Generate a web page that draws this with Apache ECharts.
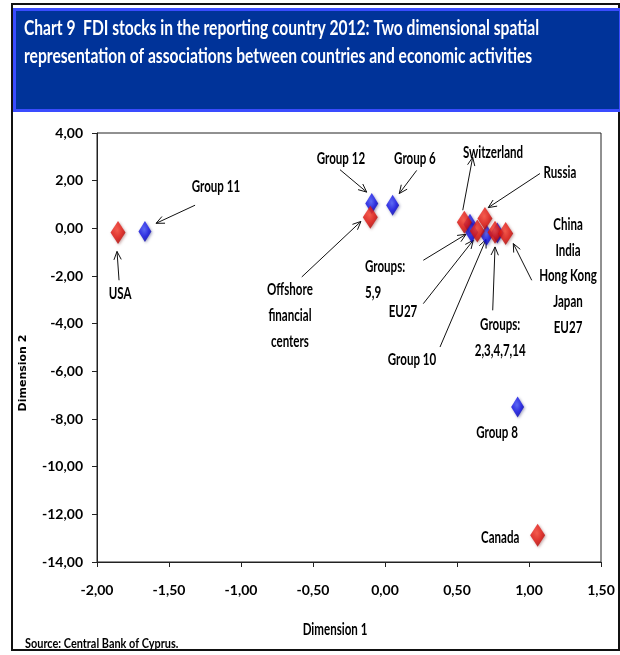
<!DOCTYPE html>
<html>
<head>
<meta charset="utf-8">
<style>
  html, body { margin: 0; padding: 0; background: #fff; }
  #chart { width: 620px; height: 655px; }
</style>
<script src="https://cdn.jsdelivr.net/npm/echarts@6/dist/echarts.min.js"></script>
</head>
<body>
<div id="chart"></div>
<script>
// Axis ticks (Dimension 1 / Dimension 2)
var xTicks = [-2.0, -1.5, -1.0, -0.5, 0.0, 0.5, 1.0, 1.5];
var yTicks = [-14, -12, -10, -8, -6, -4, -2, 0, 2, 4];

// Countries (red) – [dimension 1, dimension 2]
var countryNames = ['USA', 'Offshore financial centers', 'Switzerland', 'EU27', 'Russia', 'Hong Kong', 'China', 'Canada'];
var countryPoints = [
  [-1.854, -0.17],
  [-0.102, 0.47],
  [0.551, 0.26],
  [0.641, -0.11],
  [0.694, 0.41],
  [0.764, -0.16],
  [0.838, -0.22],
  [1.060, -12.88]
];

// Economic activity groups (blue)
var groupNames = ['Group 11', 'Group 12', 'Group 6', 'Groups 5,9', 'Group 9', 'Group 10', 'Groups 2,3,4,7,14', 'Group 8'];
var groupPoints = [
  [-1.667, -0.13],
  [-0.092, 1.04],
  [0.053, 0.97],
  [0.590, 0.17],
  [0.602, -0.16],
  [0.706, -0.29],
  [0.780, -0.20],
  [0.921, -7.50]
];

// Annotation texts and their anchor in data units
var labelTexts = ['Group 11', 'USA', 'Group 12', 'Group 6', 'Offshore\nfinancial\ncenters', 'Switzerland', 'Russia',
  'Groups:\n5,9', 'EU27', 'Group 10', 'Groups:\n2,3,4,7,14', 'China\nIndia\nHong Kong\nJapan\nEU27', 'Group 8', 'Canada'];
var labelAnchors = [
  [-1.174, 1.76], [-1.840, -2.73], [-0.306, 2.94], [0.208, 2.94], [-0.66, -3.65], [0.75, 3.19], [1.215, 2.35],
  [-0.139, -2.14], [0.125, -3.48], [0.1875, -5.50], [0.80, -4.57], [1.271, -1.99], [0.778, -8.56], [0.80, -12.97]
];
var labelAlign = ['center', 'center', 'center', 'center', 'center', 'center', 'center',
  'left', 'center', 'center', 'center', 'center', 'center', 'center'];

// Leader arrows: [tailX, tailY, headX, headY]
var arrows = [
  [-1.319, 0.97, -1.590, 0.21],
  [-1.847, -2.18, -1.861, -0.97],
  [-0.3125, 2.46, -0.127, 1.52],
  [0.220, 2.43, 0.099, 1.46],
  [-0.578, -2.04, -0.167, 0.29],
  [0.540, 0.76, 0.609, 2.98],
  [1.076, 2.30, 0.717, 0.87],
  [0.266, -1.34, 0.5625, -0.25],
  [0.266, -3.16, 0.613, -0.50],
  [0.382, -4.98, 0.701, -0.47],
  [0.748, -3.44, 0.764, -0.78],
  [1.019, -2.18, 0.891, -0.64]
];

var FONT = 'Lato, "DejaVu Sans Condensed", sans-serif';
var NARROW = 0.68;        // horizontal squeeze of the chart lettering
var NARROW_TITLE = 0.78;  // horizontal squeeze of the title and footnote

function fmt(v) { return v.toFixed(2).replace('.', ','); }

function diamondFill(light, mid, dark) {
  return new echarts.graphic.RadialGradient(0.45, 0.4, 0.7, [
    { offset: 0, color: light },
    { offset: 0.5, color: mid },
    { offset: 1, color: dark }
  ]);
}

var chart = echarts.init(document.getElementById('chart'), null, { renderer: 'canvas' });

var option = {
  animation: false,
  backgroundColor: '#ffffff',
  grid: {
    left: 97, right: 19, top: 133, bottom: 93,
    show: true, borderColor: '#222', borderWidth: 1, backgroundColor: '#fff'
  },
  xAxis: {
    type: 'value',
    min: xTicks[0], max: xTicks[xTicks.length - 1], interval: xTicks[1] - xTicks[0],
    axisLine: { show: true, onZero: false, lineStyle: { color: '#222', width: 1 } },
    axisTick: { show: true, inside: false, length: 5, lineStyle: { color: '#222' } },
    splitLine: { show: false },
    axisLabel: { color: '#000', fontFamily: FONT, fontWeight: 'bold', fontSize: 14, margin: 21, formatter: fmt }
  },
  yAxis: {
    type: 'value',
    min: yTicks[0], max: yTicks[yTicks.length - 1], interval: yTicks[1] - yTicks[0],
    axisLine: { show: true, onZero: false, lineStyle: { color: '#222', width: 1 } },
    axisTick: { show: true, inside: false, length: 5, lineStyle: { color: '#222' } },
    splitLine: { show: false },
    axisLabel: { color: '#000', fontFamily: FONT, fontWeight: 'bold', fontSize: 14, margin: 14, formatter: fmt }
  },
  graphic: [
    { type: 'rect', z: -10, shape: { x: 12, y: 4, width: 607, height: 646 },
      style: { fill: '#fff', stroke: '#111', lineWidth: 2 } },
    { type: 'rect', z: 10, shape: { x: 14.5, y: 9.5, width: 606, height: 101 },
      style: { fill: '#003399', stroke: '#3a4cff', lineWidth: 3 } },
    { type: 'text', z: 11, x: 24, y: 15, scaleX: NARROW_TITLE,
      style: { text: 'Chart 9  FDI stocks in the reporting country 2012: Two dimensional spatial\nrepresentation of associations between countries and economic activities',
        fill: '#fff', font: 'bold 20px ' + FONT, lineHeight: 28, align: 'left', verticalAlign: 'top' } },
    { type: 'text', z: 11, x: 23, y: 373, rotation: Math.PI / 2,
      style: { text: 'Dimension 2', fill: '#000', font: 'bold 11px "DejaVu Sans", sans-serif',
        align: 'center', verticalAlign: 'middle' } },
    { type: 'text', z: 11, x: 335, y: 630, scaleX: NARROW,
      style: { text: 'Dimension 1', fill: '#000', font: 'bold 17px ' + FONT,
        align: 'center', verticalAlign: 'middle' } },
    { type: 'text', z: 11, x: 25, y: 643, scaleX: NARROW_TITLE,
      style: { text: 'Source: Central Bank of Cyprus.', fill: '#000', font: 'bold 14px ' + FONT,
        align: 'left', verticalAlign: 'middle' } }
  ],
  series: [
    {
      name: 'Arrows',
      type: 'custom',
      z: 3,
      silent: true,
      data: arrows,
      renderItem: function (params, api) {
        var t = api.coord([api.value(0), api.value(1)]);
        var h = api.coord([api.value(2), api.value(3)]);
        var ang = Math.atan2(h[1] - t[1], h[0] - t[0]);
        var len = 9, spread = 0.42;
        var a1 = [h[0] - len * Math.cos(ang - spread), h[1] - len * Math.sin(ang - spread)];
        var a2 = [h[0] - len * Math.cos(ang + spread), h[1] - len * Math.sin(ang + spread)];
        var st = { stroke: '#111', lineWidth: 1, fill: null };
        return {
          type: 'group',
          children: [
            { type: 'line', shape: { x1: t[0], y1: t[1], x2: h[0], y2: h[1] }, style: st },
            { type: 'polyline', shape: { points: [a1, h, a2] }, style: st }
          ]
        };
      }
    },
    {
      name: 'Economic activities',
      type: 'scatter',
      z: 4,
      symbol: 'diamond',
      symbolSize: [13, 21],
      data: groupPoints,
      itemStyle: {
        color: diamondFill('#4a5aff', '#1010e6', '#000088'),
        shadowBlur: 3, shadowColor: 'rgba(0,0,80,0.45)', shadowOffsetX: 1, shadowOffsetY: 1
      }
    },
    {
      name: 'Countries',
      type: 'scatter',
      z: 5,
      symbol: 'diamond',
      symbolSize: [15, 23],
      data: countryPoints,
      itemStyle: {
        color: diamondFill('#ff4a38', '#e21610', '#930000'),
        shadowBlur: 3, shadowColor: 'rgba(90,0,0,0.45)', shadowOffsetX: 1, shadowOffsetY: 1
      }
    },
    {
      name: 'Labels',
      type: 'custom',
      z: 6,
      silent: true,
      data: labelAnchors,
      renderItem: function (params, api) {
        var p = api.coord([api.value(0), api.value(1)]);
        var txt = labelTexts[params.dataIndex];
        return {
          type: 'text',
          x: p[0], y: p[1], scaleX: NARROW,
          style: {
            text: txt, fill: '#000', font: 'bold 17px ' + FONT,
            align: labelAlign[params.dataIndex], verticalAlign: 'middle',
            lineHeight: txt.indexOf('China') === 0 ? 25.7 : 26
          }
        };
      }
    }
  ]
};

chart.setOption(option);
</script>
</body>
</html>
